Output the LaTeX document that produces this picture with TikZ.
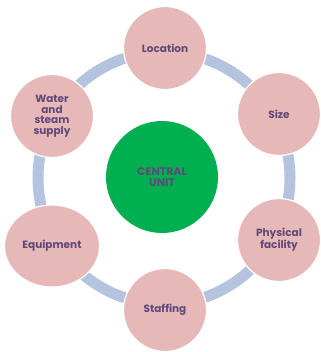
\documentclass[tikz,border=0pt]{standalone}
\usepackage{fontspec}
\setmainfont{Poppins}
\usetikzlibrary{shapes.geometric}
\definecolor{pinkfill}{HTML}{E6B9B8}
\definecolor{ringcol}{HTML}{B4C3DE}
\definecolor{txtcol}{HTML}{5F497A}
\definecolor{greenfill}{HTML}{00B050}
\tikzset{
  outer/.style={circle, fill=pinkfill, draw=white, line width=1.2pt, minimum size=83pt, inner sep=0pt,
    font=\fontsize{10.5}{10.5}\selectfont\bfseries, text=txtcol, align=center},
  centre/.style={circle, fill=greenfill, minimum size=112pt, inner sep=0pt,
    font=\fontsize{11}{10.5}\selectfont\bfseries, text=txtcol, align=center},
  ring/.style={draw=ringcol, line width=11pt}
}
\begin{document}
\begin{tikzpicture}[x=1pt,y=-1pt]
\useasboundingbox (0,0) rectangle (320,352);
\coordinate (c) at (164,178);
\draw[ring] (c) circle[radius=126];
\node[centre] (cu) at (162,177) {CENTRAL\\UNIT};
\node[outer] (loc) at (165,48) {Location};
\node[outer] (size) at (279,114) {Size};
\node[outer] (phys) at (279,240) {Physical\\facility};
\node[outer] (staff) at (165,310) {Staffing};
\node[outer, ellipse, minimum width=95pt, minimum height=82pt] (equip) at (52,246) {Equipment};
\node[outer] (water) at (52,116) {Water\\and\\steam\\supply};
\end{tikzpicture}
\end{document}
